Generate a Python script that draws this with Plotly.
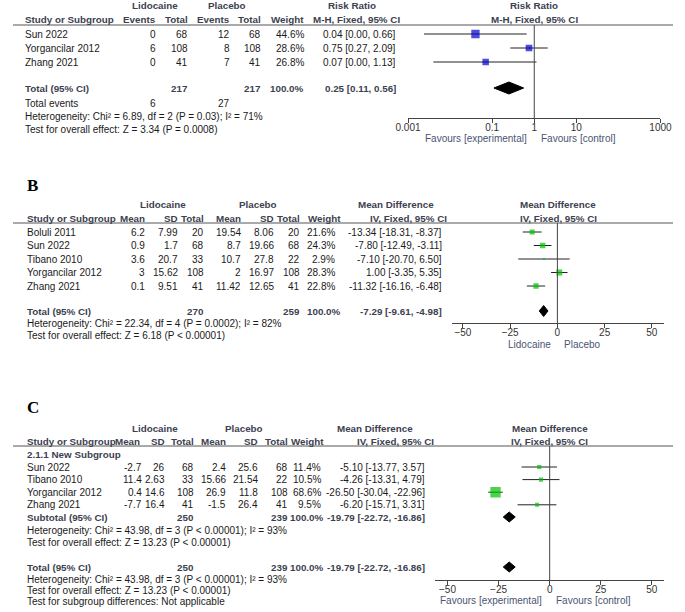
"""Three forest plots (RevMan style) for lidocaine vs placebo, drawn with Plotly."""

import plotly.graph_objects as go

W, H = 685, 612

# ---- Panel A: risk ratio ----
a_studies = ["Sun 2022", "Yorgancilar 2012", "Zhang 2021"]
a_lido_events = [0, 6, 0]
a_lido_total = [68, 108, 41]
a_plac_events = [12, 8, 7]
a_plac_total = [68, 108, 41]
a_weight = [44.6, 28.6, 26.8]
a_rr = [0.04, 0.75, 0.07]
a_lo = [0.0024, 0.27, 0.004]
a_hi = [0.66, 2.09, 1.13]
a_total = [217, 217]
a_events = [6, 27]
a_pooled = [0.25, 0.11, 0.56]
a_het = "Heterogeneity: Chi² = 6.89, df = 2 (P = 0.03); I² = 71%"
a_test = "Test for overall effect: Z = 3.34 (P = 0.0008)"
a_ticks = [0.001, 0.1, 1, 10, 1000]
a_ticktext = ["0.001", "0.1", "1", "10", "1000"]

# ---- Panel B: mean difference ----
b_studies = ["Boluli 2011", "Sun 2022", "Tibano 2010", "Yorgancilar 2012", "Zhang 2021"]
b_lido_mean = [6.2, 0.9, 3.6, 3, 0.1]
b_lido_sd = [7.99, 1.7, 20.7, 15.62, 9.51]
b_lido_n = [20, 68, 33, 108, 41]
b_plac_mean = [19.54, 8.7, 10.7, 2, 11.42]
b_plac_sd = [8.06, 19.66, 27.8, 16.97, 12.65]
b_plac_n = [20, 68, 22, 108, 41]
b_weight = [21.6, 24.3, 2.9, 28.3, 22.8]
b_md = [-13.34, -7.80, -7.10, 1.00, -11.32]
b_lo = [-18.31, -12.49, -20.70, -3.35, -16.16]
b_hi = [-8.37, -3.11, 6.50, 5.35, -6.48]
b_total = [270, 259]
b_pooled = [-7.29, -9.61, -4.98]
b_het = "Heterogeneity: Chi² = 22.34, df = 4 (P = 0.0002); I² = 82%"
b_test = "Test for overall effect: Z = 6.18 (P < 0.00001)"

# ---- Panel C: mean difference with subgroup ----
c_studies = ["Sun 2022", "Tibano 2010", "Yorgancilar 2012", "Zhang 2021"]
c_lido_mean = [-2.7, 11.4, 0.4, -7.7]
c_lido_sd = [26, 2.63, 14.6, 16.4]
c_lido_n = [68, 33, 108, 41]
c_plac_mean = [2.4, 15.66, 26.9, -1.5]
c_plac_sd = [25.6, 21.54, 11.8, 26.4]
c_plac_n = [68, 22, 108, 41]
c_weight = [11.4, 10.5, 68.6, 9.5]
c_md = [-5.10, -4.26, -26.50, -6.20]
c_lo = [-13.77, -13.31, -30.04, -15.71]
c_hi = [3.57, 4.79, -22.96, 3.31]
c_total = [250, 239]
c_pooled = [-19.79, -22.72, -16.86]
c_het = "Heterogeneity: Chi² = 43.98, df = 3 (P < 0.00001); I² = 93%"
c_test = "Test for overall effect: Z = 13.23 (P < 0.00001)"
c_subdiff = "Test for subgroup differences: Not applicable"

md_ticks = [-50, -25, 0, 25, 50]

FONT = "Liberation Sans, Arial, sans-serif"
FS = 10
FS_BOLD = 9.8
HEAD = "#3c4150"
TXT = "#1a1a1a"
FAV = "#4b5573"

fig = go.Figure()
notes = []
lines = []


def txt(x, y, s, anchor="right", bold=False, color=None, size=None, family=FONT):
    if size is None:
        size = FS_BOLD if bold else FS
    if bold:
        s = "<b>%s</b>" % s
    notes.append(dict(
        x=x / W, y=y, xref="paper", yref="y", text=s, showarrow=False,
        xanchor=anchor, yanchor="middle",
        font=dict(family=family, size=size, color=color or (HEAD if bold else TXT)),
    ))


def hline(y):
    lines.append(dict(type="line", xref="paper", yref="y", x0=0, x1=1, y0=y, y1=y,
                      line=dict(color="#555555", width=1)))


def ci_str(v, lo, hi):
    return "%.2f [%.2f, %.2f]" % (v, lo, hi)


def forest(xa, rows, est, lo, hi, weight, k, color, pooled, top, axis_y, null):
    xs, ys = [], []
    for i, y in enumerate(rows):
        xs += [lo[i], hi[i], None]
        ys += [y, y, None]
    fig.add_trace(go.Scatter(x=xs, y=ys, xaxis=xa, yaxis="y", mode="lines",
                             line=dict(color="#222222", width=1), hoverinfo="skip"))
    fig.add_trace(go.Scatter(x=est, y=rows, xaxis=xa, yaxis="y", mode="markers",
                             marker=dict(symbol="square", color=color,
                                         size=[k * w ** 0.5 for w in weight], line=dict(width=0)),
                             hoverinfo="skip"))
    for (v, l, h), y, half in pooled:
        fig.add_trace(go.Scatter(x=[l, v, h, v, l], y=[y, y - half, y, y + half, y],
                                 xaxis=xa, yaxis="y", mode="lines", fill="toself",
                                 fillcolor="black", line=dict(color="black", width=1),
                                 hoverinfo="skip"))
    fig.add_trace(go.Scatter(x=[null, null], y=[top, axis_y], xaxis=xa, yaxis="y", mode="lines",
                             line=dict(color="#444444", width=1), hoverinfo="skip"))


def g(v):
    return "%g" % v


# ================= Panel A =================
a_rows = [34 + 14 * i for i in range(len(a_studies))]
txt(147, 5, "Lidocaine", "center", True)
txt(222, 5, "Placebo", "center", True)
txt(352, 5, "Risk Ratio", "center", True)
txt(541, 5, "Risk Ratio", "center", True)
for x, s, anc in [(10, "Study or Subgroup", "left"), (151, "Events", "right"), (184, "Total", "right"),
                  (227, "Events", "right"), (259, "Total", "right"), (304, "Weight", "right"),
                  (356, "M-H, Fixed, 95% CI", "center"), (541, "M-H, Fixed, 95% CI", "center")]:
    txt(x, 19, s, anc, True)
hline(25)
for i, y in enumerate(a_rows):
    txt(10, y, a_studies[i], "left")
    txt(151, y, a_lido_events[i])
    txt(184, y, a_lido_total[i])
    txt(227, y, a_plac_events[i])
    txt(259, y, a_plac_total[i])
    txt(304, y, "%.1f%%" % a_weight[i])
    txt(400, y, ci_str(a_rr[i], a_lo[i], a_hi[i]))
txt(10, 88, "Total (95% CI)", "left", True)
txt(184, 88, a_total[0], bold=True)
txt(259, 88, a_total[1], bold=True)
txt(304, 88, "100.0%", bold=True)
txt(400, 88, ci_str(*a_pooled), bold=True)
txt(10, 103, "Total events", "left")
txt(151, 103, a_events[0])
txt(227, 103, a_events[1])
txt(10, 116, a_het, "left")
txt(10, 129, a_test, "left")
txt(536, 138, "Favours [experimental]", "right", color=FAV)
txt(546, 138, "Favours [control]", "left", color=FAV)
forest("x", a_rows, a_rr, a_lo, a_hi, a_weight, 1.25, "#0000c8",
       [(a_pooled, 88, 6)], 25, 118, 1)

# ================= Panel B =================
b_rows = [232 + 13.5 * i for i in range(len(b_studies))]
txt(12, 185, "B", "left", True, "black", 17, "Liberation Serif, Times New Roman, serif")
txt(156, 204, "Lidocaine", "center", True)
txt(254, 204, "Placebo", "center", True)
txt(397, 204, "Mean Difference", "center", True)
txt(566, 204, "Mean Difference", "center", True)
b_head = [139, 173, 200, 239, 273, 300, 342]
b_cols = [139, 173, 200, 239, 273, 300, 336]
for x, s in zip(b_head, ["Mean", "SD", "Total", "Mean", "SD", "Total", "Weight"]):
    txt(x, 218, s, "right", True)
txt(12, 218, "Study or Subgroup", "left", True)
txt(410, 218, "IV, Fixed, 95% CI", "center", True)
txt(566, 218, "IV, Fixed, 95% CI", "center", True)
hline(223)
for i, y in enumerate(b_rows):
    txt(12, y, b_studies[i], "left")
    vals = [g(b_lido_mean[i]), g(b_lido_sd[i]), b_lido_n[i], g(b_plac_mean[i]),
            g(b_plac_sd[i]), b_plac_n[i], "%.1f%%" % b_weight[i]]
    for x, v in zip(b_cols, vals):
        txt(x, y, v)
    txt(447, y, ci_str(b_md[i], b_lo[i], b_hi[i]))
txt(12, 311, "Total (95% CI)", "left", True)
txt(b_cols[2], 311, b_total[0], bold=True)
txt(b_cols[5], 311, b_total[1], bold=True)
txt(b_head[6], 311, "100.0%", bold=True)
txt(447, 311, ci_str(*b_pooled), bold=True)
txt(12, 323, b_het, "left")
txt(12, 335, b_test, "left")
txt(560, 344, "Lidocaine", "right", color=FAV)
txt(570, 344, "Placebo", "left", color=FAV)
forest("x2", b_rows, b_md, b_lo, b_hi, b_weight, 1.1, "#00c000",
       [(b_pooled, 311, 5.5)], 223, 323, 0)

# ================= Panel C =================
c_rows = [467 + 12.6 * i for i in range(len(c_studies))]
txt(12, 407, "C", "left", True, "black", 17, "Liberation Serif, Times New Roman, serif")
txt(147, 428, "Lidocaine", "center", True)
txt(240, 428, "Placebo", "center", True)
txt(376, 428, "Mean Difference", "center", True)
txt(557, 428, "Mean Difference", "center", True)
c_head = [134, 160, 190, 223, 256, 287, 325]
c_cols = [136, 160, 190, 223, 256, 287, 322]
for x, s in zip(c_head, ["Mean", "SD", "Total", "Mean", "SD", "Total", "Weight"]):
    txt(x, 441, s, "right", True)
txt(12, 441, "Study or Subgroup", "left", True)
txt(397, 441, "IV, Fixed, 95% CI", "center", True)
txt(557, 441, "IV, Fixed, 95% CI", "center", True)
hline(446)
txt(12, 454, "2.1.1 New Subgroup", "left", True)
for i, y in enumerate(c_rows):
    txt(12, y, c_studies[i], "left")
    vals = [g(c_lido_mean[i]), g(c_lido_sd[i]), c_lido_n[i], g(c_plac_mean[i]),
            g(c_plac_sd[i]), c_plac_n[i], "%.1f%%" % c_weight[i]]
    for x, v in zip(c_cols, vals):
        txt(x, y, v)
    txt(430, y, ci_str(c_md[i], c_lo[i], c_hi[i]))
for y, label in [(517, "Subtotal (95% CI)"), (567, "Total (95% CI)")]:
    txt(12, y, label, "left", True)
    txt(c_cols[2], y, c_total[0], bold=True)
    txt(c_cols[5], y, c_total[1], bold=True)
    txt(c_head[6], y, "100.0%", bold=True)
    txt(430, y, ci_str(*c_pooled), bold=True)
txt(12, 530, c_het, "left")
txt(12, 542, c_test, "left")
txt(12, 579, c_het, "left")
txt(12, 590, c_test, "left")
txt(12, 601, c_subdiff, "left")
txt(551, 600, "Favours [experimental]", "right", color=FAV)
txt(561, 600, "Favours [control]", "left", color=FAV)
forest("x3", c_rows, c_md, c_lo, c_hi, c_weight, 1.25, "#00c000",
       [(c_pooled, 517, 5), (c_pooled, 567, 5)], 446, 580, 0)

axis_style = dict(showline=True, linecolor="#444444", linewidth=1, ticks="outside", ticklen=4,
                  tickcolor="#444444", showgrid=False, zeroline=False, fixedrange=True,
                  anchor="free", ticklabelstandoff=-4,
                  tickfont=dict(family=FONT, size=FS, color="#333333"))

fig.update_layout(
    width=W, height=H,
    margin=dict(l=0, r=0, t=0, b=0),
    paper_bgcolor="white", plot_bgcolor="rgba(0,0,0,0)",
    showlegend=False,
    annotations=notes,
    shapes=lines,
    yaxis=dict(range=[H, 0], domain=[0, 1], visible=False, fixedrange=True,
               anchor="free", position=0),
    xaxis=dict(type="log", range=[-3, 3], domain=[410 / W, 672 / W], position=1 - 118 / H,
               tickvals=a_ticks, ticktext=a_ticktext, **axis_style),
    xaxis2=dict(range=[-55.6, 56.6], domain=[456 / W, 676 / W], position=1 - 323 / H,
                tickvals=md_ticks, **axis_style),
    xaxis3=dict(range=[-56.1, 56.1], domain=[438 / W, 676 / W], position=1 - 580 / H,
                tickvals=md_ticks, **axis_style),
)

fig.write_html("out.html", config={"displayModeBar": False},
               post_script="document.body.style.margin='0';")
